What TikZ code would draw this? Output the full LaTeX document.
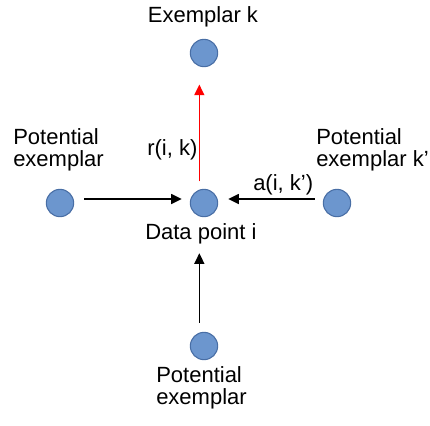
\documentclass[tikz,border=0pt]{standalone}
\usepackage{fontspec}
\setmainfont{Liberation Sans}
\usetikzlibrary{arrows.meta}
\definecolor{dotfill}{RGB}{108,150,206}
\definecolor{dotline}{RGB}{72,110,165}
\definecolor{resp}{RGB}{255,0,0}

\begin{document}
\begin{tikzpicture}[
        x = .75pt, y = -.75pt,
        dot/.style = {circle, fill = dotfill, draw = dotline, line width = .8pt,
            minimum size = 20.5pt, inner sep = 0},
        lbl/.style = {inner sep = 0, align = left, font = \fontsize{16.5}{15.8}\selectfont},
        msg/.style = {-{Triangle[length = 8pt, width = 7.5pt]}, line width = 1pt}
    ]
    \useasboundingbox (0, 0) rectangle (430, 426);

    % points
    \node[dot] (exk) at (204, 53) {};
    \node[dot] (pl) at (60, 203) {};
    \node[dot] (di) at (204, 203) {};
    \node[dot] (pr) at (337, 203) {};
    \node[dot] (pb) at (204, 346) {};

    % labels (base of a two-line label is its last line)
    \node[lbl, anchor = base] (exklbl) at (203, 22) {Exemplar k};
    \node[lbl, anchor = base west] (pllbl) at (13, 166) {Potential\\exemplar};
    \node[lbl, anchor = base west] (prlbl) at (316, 166) {Potential\\exemplar k'};
    \node[lbl, anchor = base west] (rlbl) at (147, 155) {r(i, k)};
    \node[lbl, anchor = base west] (albl) at (253, 190) {a(i, k')};
    \node[lbl, anchor = base west] (dilbl) at (145, 239) {Data point i};
    \node[lbl, anchor = base west] (pblbl) at (156, 404) {Potential\\exemplar};

    % messages
    \draw[msg, resp, shorten < = 5.6pt, shorten > = 13pt]
        ([xshift = -3.5pt]di.north) -- ([xshift = -3.5pt]exk.south);
    \draw[msg, shorten < = 7.5pt, shorten > = 6pt]
        ([yshift = 3pt]pl.east) -- ([yshift = 3pt]di.west);
    \draw[msg, shorten < = 6pt, shorten > = 7.5pt]
        ([yshift = 3pt]pr.west) -- ([yshift = 3pt]di.east);
    \draw[msg, shorten < = 6.75pt, shorten > = 27pt]
        ([xshift = -3.5pt]pb.north) -- ([xshift = -3.5pt]di.south);
\end{tikzpicture}
\end{document}
